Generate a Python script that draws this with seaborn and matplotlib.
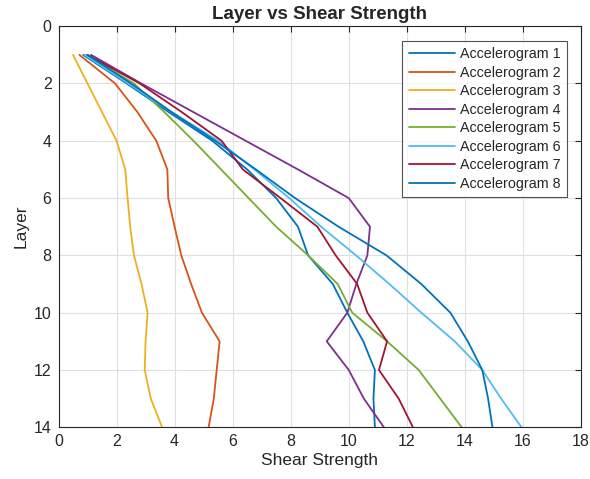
import numpy as np
import pandas as pd
import matplotlib
matplotlib.use("Agg")
import matplotlib.pyplot as plt
import seaborn as sns

layers = list(range(1, 15))
acc1 = [0.85, 2.35, 3.8, 5.3, 6.5, 7.5, 8.25, 8.6, 9.45, 9.95, 10.5, 10.9, 10.85, 10.9]
acc2 = [0.72, 1.95, 2.72, 3.37, 3.75, 3.78, 4.0, 4.23, 4.57, 4.94, 5.55, 5.45, 5.35, 5.17]
acc3 = [0.5, 1.0, 1.5, 2.0, 2.3, 2.38, 2.47, 2.6, 2.86, 3.07, 3.0, 2.97, 3.18, 3.57]
acc4 = [1.12, 2.85, 4.65, 6.45, 8.25, 10.0, 10.73, 10.64, 10.26, 9.95, 9.24, 10.0, 10.52, 11.21]
acc5 = [0.95, 2.6, 3.65, 4.65, 5.6, 6.55, 7.5, 8.6, 9.62, 10.12, 11.32, 12.41, 13.15, 13.89]
acc6 = [0.9, 2.4, 3.9, 5.5, 6.75, 7.95, 9.05, 10.25, 11.4, 12.5, 13.65, 14.6, 15.25, 15.95]
acc7 = [1.0, 2.8, 4.25, 5.62, 6.35, 7.65, 8.92, 9.55, 10.29, 10.64, 11.32, 11.04, 11.72, 12.21]
acc8 = [1.0, 2.5, 3.9, 5.4, 6.8, 8.15, 9.65, 11.3, 12.5, 13.5, 14.1, 14.6, 14.8, 14.95]

names = [f"Accelerogram {i}" for i in range(1, 9)]
series = [acc1, acc2, acc3, acc4, acc5, acc6, acc7, acc8]
colors = ["#0072BD", "#D95319", "#EDB120", "#7E2F8E", "#77AC30",
          "#4DBEEE", "#A2142F", "#0072BD"]

rows = []
for n, s in zip(names, series):
    for l, v in zip(layers, s):
        rows.append({"Layer": l, "Shear Strength": v, "Series": n})
df = pd.DataFrame(rows)

sns.set_style("white")
plt.rcParams["font.family"] = ["Liberation Sans", "DejaVu Sans"]

fig = plt.figure(figsize=(5.9, 4.79), dpi=100)
ax = fig.add_axes([58.5 / 590, 1 - 427.3 / 479, (581 - 58.5) / 590, (427.3 - 26.2) / 479])

sns.lineplot(data=df, x="Shear Strength", y="Layer", hue="Series",
             palette=dict(zip(names, colors)), sort=False, estimator=None,
             orient="y", linewidth=1.3, ax=ax)

ax.set_xlim(0, 18)
ax.set_ylim(14, 0)
ax.set_xticks(np.arange(0, 19, 2))
ax.set_yticks(np.arange(0, 15, 2))
ax.grid(True, color="#e0e0e0", linewidth=0.8)
ax.set_axisbelow(True)
ax.tick_params(direction="in", top=True, right=True, length=4, width=0.8,
               labelsize=11.5, colors="#262626", pad=5)
for sp in ax.spines.values():
    sp.set_color("#262626")
    sp.set_linewidth(0.8)

ax.set_xlabel("Shear Strength", fontsize=12.5, color="#262626", labelpad=3)
ax.set_ylabel("Layer", fontsize=12.5, color="#262626")
ax.set_title("Layer vs Shear Strength", fontsize=13.5, fontweight="bold", pad=5)

leg = ax.legend(loc="upper right", fontsize=10.3, frameon=True, fancybox=False,
                edgecolor="#262626", labelspacing=0.32, handlelength=3.25,
                borderaxespad=1.0, handletextpad=0.3, borderpad=0.45)
leg.get_frame().set_linewidth(0.8)

fig.savefig("out.png", dpi=100)
